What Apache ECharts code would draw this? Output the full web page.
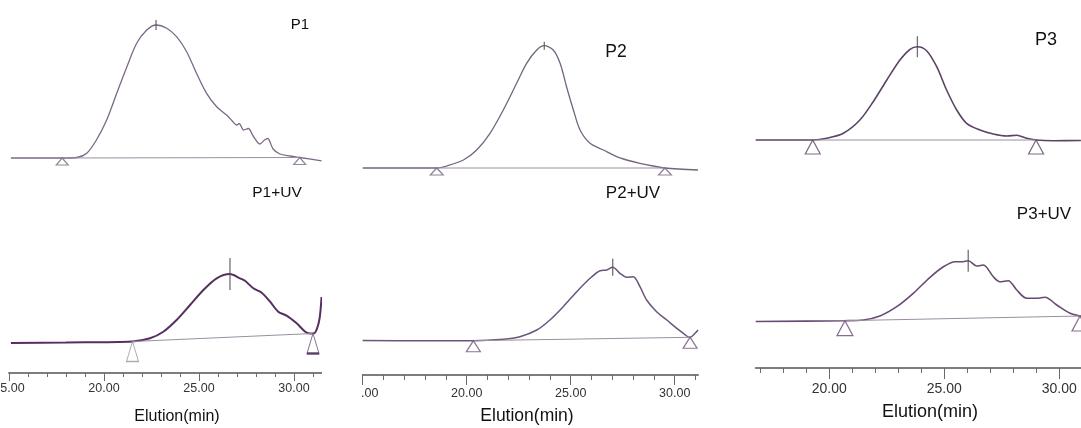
<!DOCTYPE html>
<html>
<head>
<meta charset="utf-8">
<script src="https://cdn.jsdelivr.net/npm/echarts@6/dist/echarts.min.js"></script>
<style>
  html, body { margin: 0; padding: 0; background: #fff; }
  .col { position: absolute; top: 0; height: 428px; }
</style>
</head>
<body>
<div id="c1" class="col" style="left:0;width:322px"></div>
<div id="c2" class="col" style="left:361px;width:338px"></div>
<div id="c3" class="col" style="left:752px;width:329px"></div>
<script>
// elution time (min) and detector signal
const p1Time = [15.1, 17.8, 18.56, 19.09, 19.6, 20.14, 20.67, 21.2, 21.72, 22.25, 22.74, 23.3, 23.82, 24.35, 24.87, 25.4, 25.93, 26.45, 26.75, 26.98, 27.12, 27.35, 27.6, 27.85, 28.2, 28.45, 28.62, 28.9, 29.26, 29.8, 30.3, 31.45];
const p1Signal = [0, 0, 0.5, 4.7, 18, 38, 64.7, 91, 114.7, 128, 133, 129.7, 121.3, 106.3, 84.7, 64.7, 51.3, 43, 37, 33, 34.5, 28, 29.5, 22, 14, 18, 19.5, 9, 4, 2, 0.5, -2.9];
const p1Marks = [17.8, 30.3];
const p1MarkLevel = [0, 0.5];
const p1Peak = [22.74, 133];

const p1uvTime = [15.1, 18, 21.5, 22.42, 23.12, 23.82, 24.53, 25.23, 25.93, 26.63, 27.16, 27.42, 27.86, 28.3, 28.74, 29.17, 29.61, 30.14, 30.75, 31.02, 31.2, 31.35, 31.45];
const p1uvSignal = [0, 0.5, 1.5, 4.7, 11.3, 23, 38, 53, 64.7, 69, 64.7, 62.3, 54.7, 50.3, 41.3, 31.3, 27.3, 19.7, 9.7, 9.5, 14, 25, 46];
const p1uvMarks = [21.5, 31.0];
const p1uvMarkLevel = [1.5, 9.5];
const p1uvPeak = [26.63, 69];

const p2Time = [15.0, 18.56, 19.04, 19.84, 20.48, 21.12, 21.76, 22.4, 22.88, 23.37, 23.73, 24.16, 24.49, 24.8, 25.13, 25.45, 25.93, 26.57, 27.21, 27.69, 28.33, 28.97, 29.53, 31.12];
const p2Signal = [0, 0, 2, 8, 18, 34.7, 58, 84.7, 104.7, 118, 122.3, 118, 104.7, 81.3, 58, 38, 24.7, 18, 11.3, 8, 4.7, 2, 0, -2];
const p2Marks = [18.56, 29.53];
const p2MarkLevel = [0, 0];
const p2Peak = [23.73, 122.3];

const p2uvTime = [15.0, 18.0, 20.32, 21.76, 22.56, 23.37, 24.0, 24.64, 25.29, 25.93, 26.41, 26.73, 27.02, 27.37, 27.69, 28.01, 28.33, 28.65, 29.13, 29.62, 30.1, 30.58, 30.74, 30.98, 31.12];
const p2uvSignal = [0.5, 0.3, 0.3, 1.7, 4.3, 11, 21, 34.3, 49.3, 62.7, 70.3, 71, 73.7, 67.7, 63.7, 64.3, 54.3, 41, 29.3, 21, 12.7, 5, 3.7, 7.7, 11];
const p2uvMarks = [20.32, 30.74];
const p2uvMarkLevel = [0.3, 3.7];
const p2uvPeak = [27.02, 73.7];

const p3Time = [16.8, 19.28, 19.89, 20.61, 21.33, 21.91, 22.5, 23.07, 23.51, 23.83, 24.23, 24.67, 25.1, 25.54, 25.97, 26.55, 27.13, 27.71, 28.15, 28.58, 28.99, 29.74, 30.94];
const p3Signal = [0, 0, 1.7, 6.7, 20, 38.3, 60, 80, 90.7, 93.3, 89.3, 73.3, 50, 30, 16.7, 10, 6, 4, 4.7, 1.7, 0, -0.7, -0.5];
const p3Marks = [19.28, 28.99];
const p3MarkLevel = [0, 0];
const p3Peak = [23.83, 93.3];

const p3uvTime = [16.8, 20.68, 21.48, 22.2, 22.93, 23.65, 24.38, 24.96, 25.47, 25.76, 26.04, 26.41, 26.7, 27.13, 27.42, 27.78, 28.15, 28.58, 29.02, 29.38, 29.89, 30.47, 30.9, 30.94];
const p3uvSignal = [-0.5, 0.3, 1, 5, 14.3, 27.7, 43.7, 54.3, 59.3, 59.3, 60.3, 55, 56, 44.3, 39.3, 40.3, 31, 22.7, 22.7, 23.7, 16, 7.7, 5, 4.9];
const p3uvMarks = [20.68, 30.9];
const p3uvMarkLevel = [0.3, 5.0];
const p3uvPeak = [26.04, 60.3];

// tick labels
const labels12 = [15, 20, 25, 30];
const minor12 = [16, 17, 18, 19, 21, 22, 23, 24, 26, 27, 28, 29, 31];
const labels3 = [20, 25, 30];
const minor3 = [17, 18, 19, 21, 22, 23, 24, 26, 27, 28, 29];

const FONT = '"Liberation Sans", Arial, sans-serif';

function pairs(xs, ys) {
  return xs.map((x, i) => [x, ys[i]]);
}

function traceSeries(axis, trace, look) {
  const triColors = look.triColors || [look.line, look.line];
  const list = [
    {
      type: 'line', xAxisIndex: axis, yAxisIndex: axis, silent: true,
      data: pairs(trace.time, trace.signal), smooth: 0.3, showSymbol: false,
      lineStyle: { color: look.line, width: look.width }, z: 2
    },
    {
      type: 'line', xAxisIndex: axis, yAxisIndex: axis, silent: true,
      data: pairs(trace.marks, trace.level), showSymbol: false,
      lineStyle: { color: '#9a8ea1', width: 1 }, z: 2
    },
    {
      type: 'scatter', xAxisIndex: axis, yAxisIndex: axis, silent: true,
      data: pairs(trace.marks, trace.level).map((p, i) => ({
        value: p, itemStyle: { borderColor: triColors[i] }
      })),
      symbol: 'triangle', symbolSize: look.tri, symbolOffset: [0, look.tri[1] / 2],
      itemStyle: { color: '#fff', borderWidth: 1.2 }, z: 4
    },
    {
      type: 'scatter', xAxisIndex: axis, yAxisIndex: axis, silent: true,
      data: [trace.peak], symbol: 'rect', symbolSize: [1.3, look.tick],
      itemStyle: { color: '#4d4d4d' }, z: 5
    }
  ];
  if (look.bar) {
    list.push({
      type: 'scatter', xAxisIndex: axis, yAxisIndex: axis, silent: true,
      data: [[trace.marks[1], trace.level[1]]], symbol: 'rect', symbolSize: [look.tri[0], 2.5],
      symbolOffset: [0, look.tri[1]], itemStyle: { color: look.line }, z: 5
    });
  }
  return list;
}

function buildColumn(c) {
  const width = (c.xMax - c.xMin) * c.pxPerMin;
  const botTop = c.botBase - 100;
  // axes 0 = top panel, 1 = bottom panel (labels + major ticks), 2 = bottom minor ticks
  const xAxis = [
    { gridIndex: 0, type: 'value', min: c.xMin, max: c.xMax, show: false },
    {
      gridIndex: 1, type: 'value', min: c.xMin, max: c.xMax, position: 'bottom',
      axisLine: { show: true, onZero: false, lineStyle: { color: '#7d7d7d', width: 2 } },
      axisTick: { show: true, customValues: c.labels, length: c.majorLen, lineStyle: { color: '#6a6a6a' } },
      axisLabel: {
        customValues: c.labels, formatter: v => v.toFixed(2), margin: c.margin,
        color: '#333', fontSize: c.tickFont, fontFamily: FONT
      },
      splitLine: { show: false }
    },
    {
      gridIndex: 1, type: 'value', min: c.xMin, max: c.xMax, position: 'bottom',
      axisLine: { show: false, onZero: false },
      axisTick: { show: true, customValues: c.minor, length: c.minorLen, lineStyle: { color: '#6a6a6a' } },
      axisLabel: { show: false }, splitLine: { show: false }
    }
  ];
  const yAxis = [
    { gridIndex: 0, type: 'value', min: -20, max: 140, show: false },
    { gridIndex: 1, type: 'value', min: c.botBase - c.axisY, max: 100, show: false },
    { gridIndex: 1, type: 'value', min: c.botBase - c.axisY, max: 100, show: false }
  ];
  const text = (t, pos, size) => ({
    type: 'text', x: pos[0], y: pos[1], silent: true,
    style: { text: t, font: size + 'px ' + FONT, fill: '#111', align: 'center', verticalAlign: 'middle' }
  });
  return {
    animation: false,
    grid: [
      { left: c.left, width: width, top: c.topBase - 140, height: 160, outerBoundsMode: 'none', containLabel: false },
      { left: c.left, width: width, top: botTop, height: c.axisY - botTop, outerBoundsMode: 'none', containLabel: false }
    ],
    xAxis: xAxis,
    yAxis: yAxis,
    series: traceSeries(0, c.top, c.topLook).concat(traceSeries(1, c.bottom, c.bottomLook)),
    graphic: [
      text(c.topName, c.topNamePos, c.nameFont[0]),
      text(c.bottomName, c.bottomNamePos, c.nameFont[1]),
      text('Elution(min)', c.axisNamePos, c.nameFont[2])
    ]
  };
}

const columns = [
  {
    id: 'c1', left: 9, xMin: 15, xMax: 31.45, pxPerMin: 19,
    topBase: 158, botBase: 343, axisY: 373,
    labels: labels12, minor: minor12, margin: 9, majorLen: 8, minorLen: 4, tickFont: 12.5,
    top: { time: p1Time, signal: p1Signal, marks: p1Marks, level: p1MarkLevel, peak: p1Peak },
    bottom: { time: p1uvTime, signal: p1uvSignal, marks: p1uvMarks, level: p1uvMarkLevel, peak: p1uvPeak },
    topLook: { line: '#7b6985', width: 1.3, tri: [12, 7], tick: 10 },
    bottomLook: { line: '#55305f', width: 2, tri: [12, 20], tick: 32, triColors: ['#9a9a9a', '#6b4f78'], bar: true },
    topName: 'P1', topNamePos: [300, 25],
    bottomName: 'P1+UV', bottomNamePos: [277, 193],
    axisNamePos: [177, 417], nameFont: [15, 15.5, 16]
  },
  {
    id: 'c2', left: 1.7, xMin: 15, xMax: 31.12, pxPerMin: 20.8,
    topBase: 168, botBase: 341, axisY: 375,
    labels: labels12, minor: minor12, margin: 12, majorLen: 10, minorLen: 5, tickFont: 12.5,
    top: { time: p2Time, signal: p2Signal, marks: p2Marks, level: p2MarkLevel, peak: p2Peak },
    bottom: { time: p2uvTime, signal: p2uvSignal, marks: p2uvMarks, level: p2uvMarkLevel, peak: p2uvPeak },
    topLook: { line: '#74657d', width: 1.3, tri: [13, 7], tick: 8 },
    bottomLook: { line: '#6c5578', width: 1.5, tri: [14, 11], tick: 17 },
    topName: 'P2', topNamePos: [255, 52],
    bottomName: 'P2+UV', bottomNamePos: [272, 193],
    axisNamePos: [166, 416], nameFont: [17.5, 17, 17.5]
  },
  {
    id: 'c3', left: 3.7, xMin: 16.8, xMax: 30.94, pxPerMin: 23,
    topBase: 140, botBase: 321, axisY: 368,
    labels: labels3, minor: minor3, margin: 14, majorLen: 11, minorLen: 5, tickFont: 14,
    top: { time: p3Time, signal: p3Signal, marks: p3Marks, level: p3MarkLevel, peak: p3Peak },
    bottom: { time: p3uvTime, signal: p3uvSignal, marks: p3uvMarks, level: p3uvMarkLevel, peak: p3uvPeak },
    topLook: { line: '#5d4366', width: 1.6, tri: [15, 14], tick: 21 },
    bottomLook: { line: '#684a73', width: 1.6, tri: [16, 15], tick: 22 },
    topName: 'P3', topNamePos: [294, 40],
    bottomName: 'P3+UV', bottomNamePos: [292, 214],
    axisNamePos: [178, 412], nameFont: [18, 17, 18]
  }
];

columns.forEach(c => {
  const chart = echarts.init(document.getElementById(c.id), null, { renderer: 'canvas' });
  chart.setOption(buildColumn(c));
});
</script>
</body>
</html>
